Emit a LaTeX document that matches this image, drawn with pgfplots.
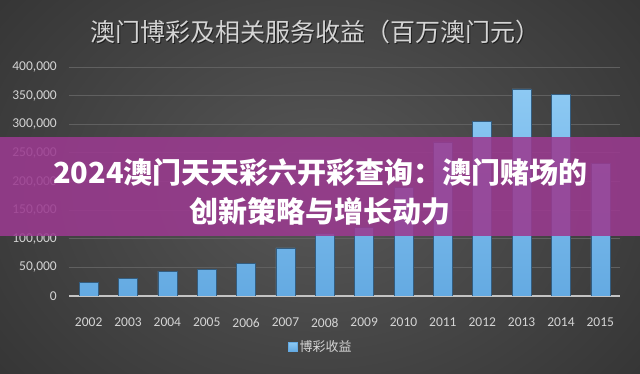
\documentclass[border=0pt]{standalone}
\usepackage{pgfplots}
\pgfplotsset{compat=1.18}
\usepackage{fontspec}
\setmainfont{Carlito}
\newfontfamily\cjk{Noto Sans CJK SC}
\definecolor{bgin}{HTML}{575757}
\definecolor{bgout}{HTML}{363636}
\definecolor{gridc}{HTML}{606060}
\definecolor{axisc}{HTML}{C4C4C4}
\definecolor{labelc}{HTML}{D4D4D4}
\definecolor{bartop}{HTML}{8DC9F3}
\definecolor{barbot}{HTML}{64AAE2}
\definecolor{baredge}{HTML}{335D80}
\definecolor{banner}{HTML}{9B3A90}

% Gaming revenue, million MOP
\pgfplotstableread{
year revenue
2002 23496
2003 30315
2004 43511
2005 47134
2006 57521
2007 83847
2008 109826
2009 120383
2010 189588
2011 269058
2012 305235
2013 361866
2014 352714
2015 231811
}\revenue

\begin{document}
\begin{tikzpicture}[x=1pt,y=1pt]
\useasboundingbox (0,0) rectangle (640,374);
% dark backdrop
\fill[bgout] (0,0) rectangle (640,374);
\shade[inner color=bgin, outer color=bgout] (-80,-120) rectangle (720,494);

% title with a soft shadow
\node[text=black, opacity=0.55, font=\cjk\fontsize{25}{30}\selectfont] at (316.2,340.8)
  {澳门博彩及相关服务收益（百万澳门元）};
\node[text=labelc, font=\cjk\fontsize{25}{30}\selectfont] at (315,342)
  {澳门博彩及相关服务收益（百万澳门元）};

\begin{axis}[
  at={(69pt,78pt)}, anchor=south west,
  scale only axis, width=551pt, height=229pt,
  xmin=2001.5, xmax=2015.5, ymin=0, ymax=400000,
  axis x line=bottom, axis y line=left,
  x axis line style={-, draw=axisc, line width=2pt},
  y axis line style={draw=none},
  major tick length=0pt,
  xtick={2002,2003,...,2015},
  ytick={0,50000,...,400000},
  scaled y ticks=false,
  /pgf/number format/assume math mode=true,
  x tick label style={/pgf/number format/1000 sep={}, anchor=north,
    inner sep=0pt, yshift=-22pt},
  y tick label style={/pgf/number format/fixed, /pgf/number format/1000 sep={,},
    anchor=east, inner sep=0pt, xshift=-12pt},
  tick label style={text=labelc, font=\fontsize{13.5}{16}\selectfont},
  ymajorgrids, grid style={draw=gridc, line width=0.8pt},
  ybar, bar width=19pt,
  legend style={at={(axis description cs:0.457,-0.223)}, anchor=center,
    draw=none, fill=none, text=labelc,
    font=\cjk\fontsize{13}{15}\selectfont},
  legend image code/.code={\fill[barbot] (0pt,-4pt) rectangle (9pt,5pt);},
]
\addplot[draw=baredge, line width=0.6pt, top color=bartop, bottom color=barbot]
  table[x=year, y=revenue] {\revenue};
\addlegendentry{博彩收益}
\end{axis}

% headline banner over the chart
\fill[banner, opacity=0.87] (0,138) rectangle (640,237);
\node[text=white, font=\cjk\bfseries\fontsize{29}{34}\selectfont] at (320.5,202)
  {2024澳门天天彩六开彩查询：澳门赌场的};
\node[text=white, font=\cjk\bfseries\fontsize{29}{34}\selectfont] at (320,163)
  {创新策略与增长动力};
\end{tikzpicture}
\end{document}
